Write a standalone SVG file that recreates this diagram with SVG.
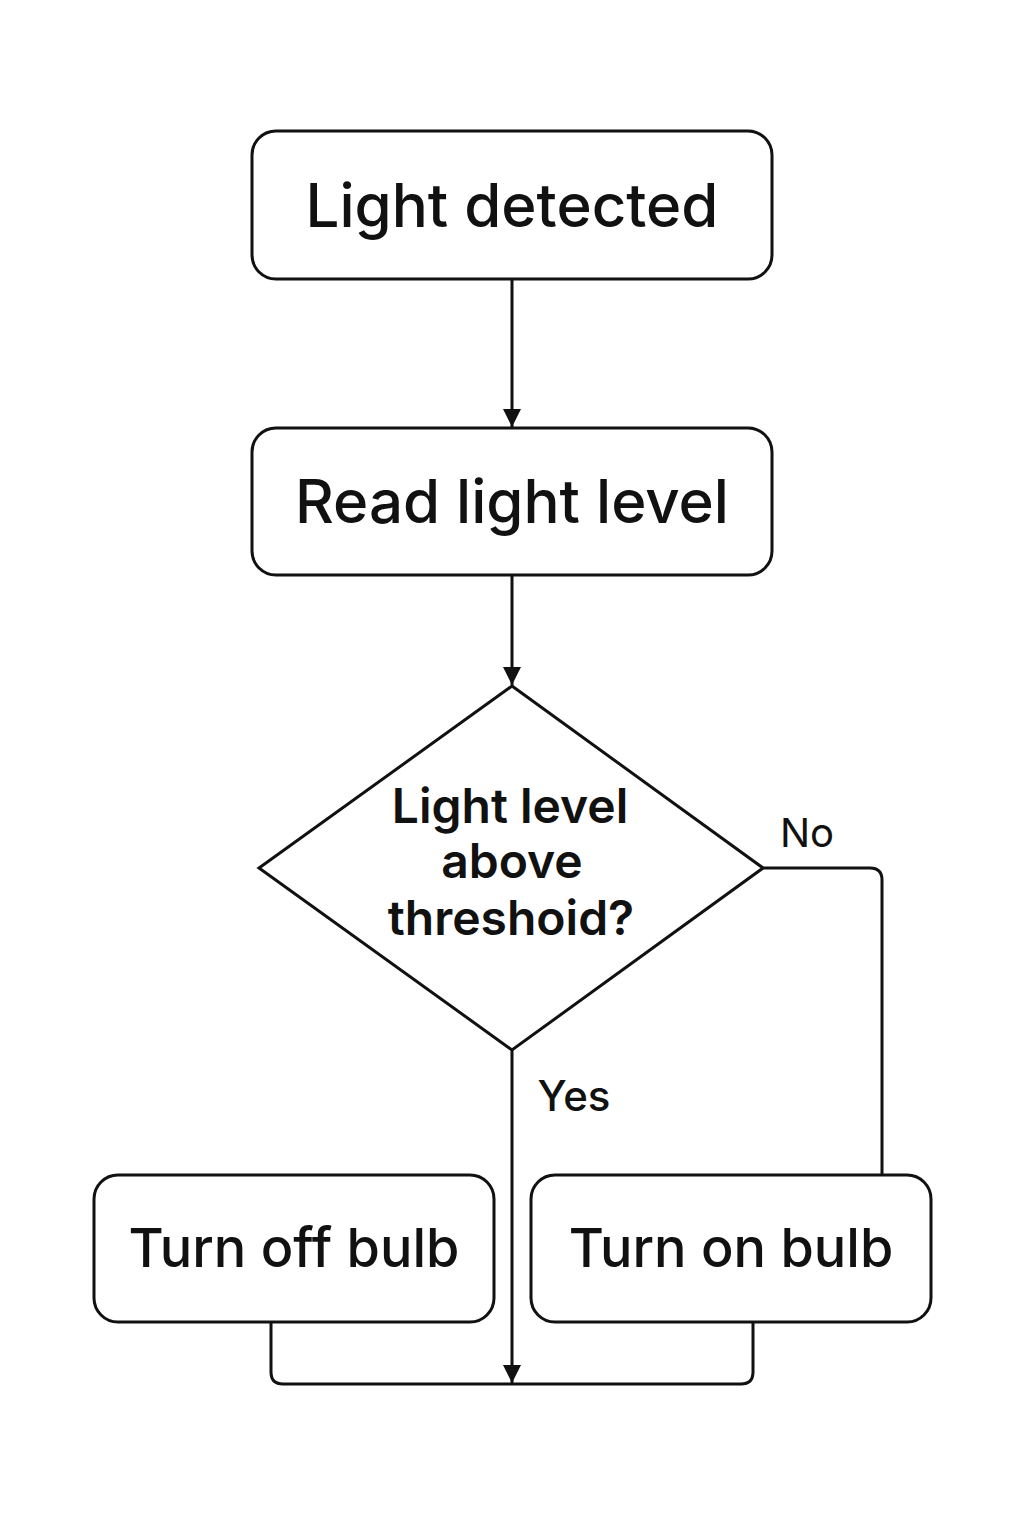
<svg xmlns="http://www.w3.org/2000/svg" width="1024" height="1536" viewBox="0 0 1024 1536">
<style>
.box{fill:#fff;stroke:#111;stroke-width:3}
.ln{fill:none;stroke:#111;stroke-width:3}
.t{font-family:Inter,"Liberation Sans",sans-serif;fill:#111;text-anchor:middle}
.big{font-size:54px;font-weight:500}
.top{font-size:60px;font-weight:500}
.mid{font-size:48px;font-weight:600}
.lab{font-size:42px;font-weight:500}
</style>
<defs>
<marker id="ah" viewBox="0 0 10 10" refX="10" refY="5" markerWidth="6" markerHeight="6" markerUnits="strokeWidth" orient="auto"><path d="M0,0 L10,5 L0,10 z" fill="#111"/></marker>
</defs>
<rect width="1024" height="1536" fill="#fff"/>
<g id="connectors">
<line class="ln" x1="512" y1="279" x2="512" y2="427" marker-end="url(#ah)"/>
<line class="ln" x1="512" y1="575" x2="512" y2="685" marker-end="url(#ah)"/>
<path class="ln" d="M763,868 H870 Q882,868 882,880 V1175"/>
<line class="ln" x1="512" y1="1050" x2="512" y2="1383" marker-end="url(#ah)"/>
<path class="ln" d="M271,1322 V1372 Q271,1384 283,1384 H741 Q753,1384 753,1372 V1322"/>
<text class="t lab" x="807" y="847" style="font-size:40px;font-weight:400">No</text>
<text class="t lab" x="574" y="1111">Yes</text>
</g>
<g id="n1">
<rect class="box" x="252" y="131" width="520" height="148" rx="24"/>
<text class="t top" x="512" y="227">Light detected</text>
</g>
<g id="n2">
<rect class="box" x="252" y="428" width="520" height="147" rx="24"/>
<text class="t top" x="512" y="523">Read light level</text>
</g>
<g id="n3">
<polygon class="box" points="512,686 763,868 512,1050 259,868"/>
<text class="t mid" x="510" y="823">Light level</text>
<text class="t mid" x="512" y="878">above</text>
<text class="t mid" x="511" y="935">threshoid?</text>
</g>
<g id="n4">
<rect class="box" x="94" y="1175" width="400" height="147" rx="24"/>
<text class="t big" x="294" y="1267">Turn off bulb</text>
</g>
<g id="n5">
<rect class="box" x="531" y="1175" width="400" height="147" rx="24"/>
<text class="t big" x="731" y="1267">Turn on bulb</text>
</g>
</svg>
